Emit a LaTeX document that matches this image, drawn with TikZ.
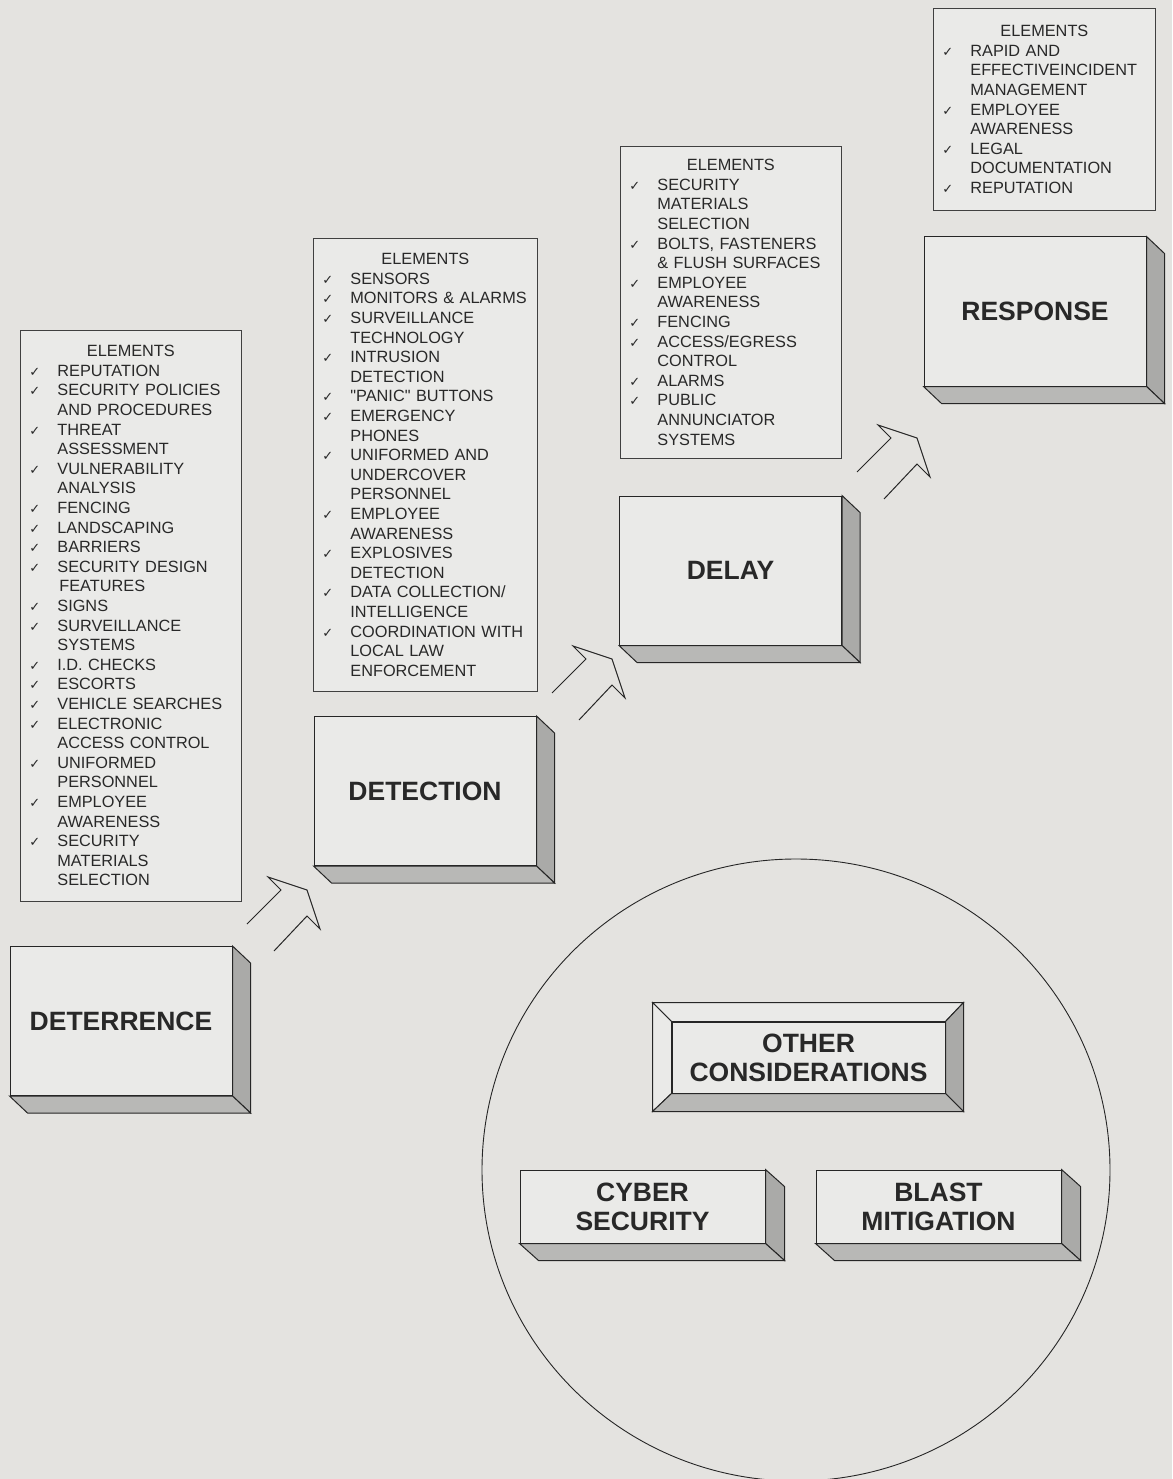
\documentclass[tikz,border=0pt]{standalone}
\usepackage{fontspec}
\setmainfont{Liberation Sans}[Ligatures=TeXOff]
\newfontfamily\symfont{DejaVu Sans}
\usetikzlibrary{positioning, calc}

\definecolor{paper}{RGB}{228,227,224}
\definecolor{face}{RGB}{234,234,232}
\definecolor{sideface}{RGB}{170,170,168}
\definecolor{baseface}{RGB}{184,184,182}
\definecolor{lettering}{RGB}{40,40,40}

\newcommand{\ck}{{\symfont\fontsize{13}{13}\selectfont ✓}}
\newcommand{\itm}[1]{\noindent\makebox[37pt][l]{\hspace*{9pt}\ck}#1\par}
\newcommand{\cnt}[1]{\noindent\hspace*{37pt}#1\par}

\begin{document}
\begin{tikzpicture}[
            x=1pt, y=-1pt,
            ink/.style={draw=black!85, line width=1pt},
            slab/.style={ink, fill=face, text=lettering, minimum width=222pt, minimum height=149pt, inner sep=0pt,
                align=center, font=\fontsize{26.5}{29}\selectfont\bfseries},
            flatslab/.style={slab, minimum width=245pt, minimum height=73pt},
            elist/.style={draw=black!75, line width=0.8pt, fill=face, text=lettering, anchor=north west, inner xsep=0pt,
                inner ysep=15pt, text width=#1, font=\fontsize{16.3}{19.6}\selectfont},
            hollow/.pic={\draw[ink, line join=miter] (-60,34) -- (-26,0) -- (-39,-13) -- (0,0) -- (13,39) -- (0,26) -- (-33,61);},
        ]

        % page
        \fill[paper] (0,0) rectangle (1172,1479);
        \useasboundingbox (0,0) rectangle (1172,1479);

        % ring round the other considerations
        \draw[ink, line width=0.9pt] (796,1170) ellipse [x radius=314pt, y radius=311pt];

        % Draw the element lists
        \node[elist=221pt] (L-dtr) at (20,330) {{\centering ELEMENTS\par}
            \itm{REPUTATION}
            \itm{SECURITY POLICIES}\cnt{AND PROCEDURES}
            \itm{THREAT}\cnt{ASSESSMENT}
            \itm{VULNERABILITY}\cnt{ANALYSIS}
            \itm{FENCING}
            \itm{LANDSCAPING}
            \itm{BARRIERS}
            \itm{SECURITY DESIGN}\cnt{\hspace*{2pt}FEATURES}
            \itm{SIGNS}
            \itm{SURVEILLANCE}\cnt{SYSTEMS}
            \itm{I.D. CHECKS}
            \itm{ESCORTS}
            \itm{VEHICLE SEARCHES}
            \itm{ELECTRONIC}\cnt{ACCESS CONTROL}
            \itm{UNIFORMED}\cnt{PERSONNEL}
            \itm{EMPLOYEE}\cnt{AWARENESS}
            \itm{SECURITY}\cnt{MATERIALS}\cnt{SELECTION}};

        \node[elist=224pt] (L-dtc) at (313,238) {{\centering ELEMENTS\par}
            \itm{SENSORS}
            \itm{MONITORS \& ALARMS}
            \itm{SURVEILLANCE}\cnt{TECHNOLOGY}
            \itm{INTRUSION}\cnt{DETECTION}
            \itm{"PANIC" BUTTONS}
            \itm{EMERGENCY}\cnt{PHONES}
            \itm{UNIFORMED AND}\cnt{UNDERCOVER}\cnt{PERSONNEL}
            \itm{EMPLOYEE}\cnt{AWARENESS}
            \itm{EXPLOSIVES}\cnt{DETECTION}
            \itm{DATA COLLECTION/}\cnt{INTELLIGENCE}
            \itm{COORDINATION WITH}\cnt{LOCAL LAW}\cnt{ENFORCEMENT}};

        \node[elist=221pt, inner ysep=13pt] (L-dly) at (620,146) {{\centering ELEMENTS\par}
            \itm{SECURITY}\cnt{MATERIALS}\cnt{SELECTION}
            \itm{BOLTS, FASTENERS}\cnt{\& FLUSH SURFACES}
            \itm{EMPLOYEE}\cnt{AWARENESS}
            \itm{FENCING}
            \itm{ACCESS/EGRESS}\cnt{CONTROL}
            \itm{ALARMS}
            \itm{PUBLIC}\cnt{ANNUNCIATOR}\cnt{SYSTEMS}};

        \node[elist=222pt, inner ysep=17pt] (L-rsp) at (933,8) {{\centering ELEMENTS\par}
            \itm{RAPID AND}\cnt{EFFECTIVEINCIDENT}\cnt{MANAGEMENT}
            \itm{EMPLOYEE}\cnt{AWARENESS}
            \itm{LEGAL}\cnt{DOCUMENTATION}
            \itm{REPUTATION}};

        % Draw the stage boxes
        \node[slab] (dtr) at (121,1021) {DETERRENCE};
        \node[slab] (dtc) at (425,791) {DETECTION};
        \node[slab] (dly) at (730.5,570.5) {DELAY};
        \node[slab] (rsp) at (1035,311.5) {RESPONSE};

        \node[flatslab] (cyb) at (642.5,1206.5) {CYBER\\SECURITY};
        \node[flatslab] (bls) at (938.5,1206.5) {BLAST\\MITIGATION};

        % side and bottom faces of the boxes
        \foreach \n / \dx in {dtr/18, dtc/18, dly/18, rsp/18, cyb/19, bls/19} {
            \filldraw[ink, fill=sideface] (\n.north east) -- ++(\dx,17) -- ($(\n.south east)+(\dx,17)$) -- (\n.south east) -- cycle;
            \filldraw[ink, fill=baseface] (\n.south west) -- (\n.south east) -- ($(\n.south east)+(\dx,17)$) -- ($(\n.south west)+(\dx,17)$) -- cycle;
        }

        % bevelled button
        \node[ink, fill=face, text=lettering, minimum width=273pt, minimum height=71pt, inner sep=0pt, align=center,
            font=\fontsize{26.5}{29}\selectfont\bfseries] (oth) at (808.5,1057.5) {OTHER\\CONSIDERATIONS};
        \coordinate (oNW) at ($(oth.north west)+(-19,-19)$);
        \coordinate (oNE) at ($(oth.north east)+(18,-19)$);
        \coordinate (oSE) at ($(oth.south east)+(18,18)$);
        \coordinate (oSW) at ($(oth.south west)+(-19,18)$);
        \filldraw[ink, fill=face] (oNW) -- (oNE) -- (oth.north east) -- (oth.north west) -- cycle;
        \filldraw[ink, fill=face] (oNW) -- (oth.north west) -- (oth.south west) -- (oSW) -- cycle;
        \filldraw[ink, fill=sideface] (oNE) -- (oSE) -- (oth.south east) -- (oth.north east) -- cycle;
        \filldraw[ink, fill=baseface] (oSW) -- (oth.south west) -- (oth.south east) -- (oSE) -- cycle;

        % Draw the hollow arrows between the stages
        \coordinate (a-1) at (307,890);
        \coordinate (a-2) at (612,659);
        \coordinate (a-3) at (917,438);
        \foreach \a in {1,2,3}
        \pic at (a-\a) {hollow};
    \end{tikzpicture}
\end{document}
